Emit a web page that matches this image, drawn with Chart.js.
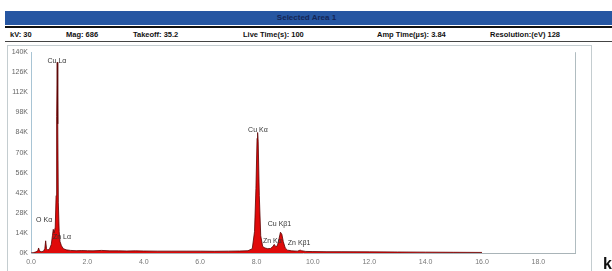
<!DOCTYPE html>
<html><head><meta charset="utf-8">
<script src="https://cdn.jsdelivr.net/npm/chart.js@4.4.1/dist/chart.umd.min.js"></script>
<style>
html,body{margin:0;padding:0;width:612px;height:271px;overflow:hidden;background:#fff;font-family:"Liberation Sans",Arial,sans-serif;}
#bar{position:absolute;left:5px;top:11px;width:607px;height:14px;background:#2656a2;color:#142556;font-weight:bold;font-size:8px;line-height:14px;text-align:center;text-indent:-4px;}
#rule1{position:absolute;left:5px;top:26px;width:607px;height:2px;background:#111;}
#rule2{position:absolute;left:5px;top:41px;width:607px;height:1px;background:#444;}
.info{position:absolute;top:30px;font-size:7.5px;font-weight:bold;color:#111;white-space:nowrap;}
#box{position:absolute;left:7px;top:45px;width:585px;height:240px;border:1px solid #c4cdd0;box-sizing:border-box;}
#wrap{position:absolute;left:0;top:47px;width:612px;height:224px;overflow:hidden;}
#kev{position:absolute;left:603px;top:255px;font-size:16px;font-weight:bold;color:#111;}
</style></head>
<body>
<div id="bar">Selected Area 1</div>
<div id="rule1"></div>
<div class="info" style="left:10px">kV: 30</div>
<div class="info" style="left:66px">Mag: 686</div>
<div class="info" style="left:133px">Takeoff: 35.2</div>
<div class="info" style="left:243px">Live Time(s): 100</div>
<div class="info" style="left:377px">Amp Time(µs): 3.84</div>
<div class="info" style="left:490px">Resolution:(eV) 128</div>
<div id="rule2"></div>
<div id="box"></div>
<div id="wrap"><canvas id="c" width="612" height="224"></canvas></div>
<div id="kev">keV</div>
<script>
// Energy (keV) and counts of the spectrum
const energy = [0.00,0.10,0.18,0.24,0.27,0.30,0.36,0.44,0.49,0.52,0.55,0.60,0.66,0.72,0.76,0.79,0.82,0.86,0.89,0.91,0.93,0.95,0.97,1.00,1.03,1.08,1.15,1.25,1.40,1.60,1.80,2.00,2.20,2.50,2.80,3.10,3.40,3.70,4.00,4.50,5.00,5.50,6.00,6.50,7.00,7.40,7.70,7.85,7.93,7.98,8.02,8.04,8.06,8.10,8.15,8.22,8.30,8.40,8.50,8.58,8.63,8.68,8.74,8.80,8.85,8.90,8.95,9.02,9.10,9.25,9.45,9.55,9.60,9.75,10.0,10.5,11.0,12.0,13.0,14.0,15.0,16.0];
const counts = [0,300,800,1500,3500,1500,900,1200,3000,8500,3000,2000,3000,6000,12000,16500,14000,18000,40000,95000,133000,90000,35000,15000,8000,5000,3000,2200,1800,1600,1700,1600,1500,1800,1500,1500,1400,1500,1400,1300,1300,1300,1300,1200,1300,1400,1600,3000,15000,45000,80000,84000,78000,40000,12000,4500,3500,3000,3200,4500,6000,4500,5000,10000,14500,13000,8000,3500,2000,1500,1300,2000,1600,1100,1000,900,900,800,700,600,500,400];
const yTicks = [0,14000,28000,42000,56000,70000,84000,98000,112000,126000,140000];
const xTicks = [0,2,4,6,8,10,12,14,16,18];
// peak labels: text, energy, counts
const peakText = ["Cu Lα","Cu Kα","O Kα","Zn Lα","Cu Kβ1","Zn Kα","Zn Kβ1"];
const peakE = [0.92,8.05,0.18,0.78,8.40,8.23,9.11];
const peakC = [133800,85800,23300,11000,19900,8200,6900];
const peakAlign = ["center","center","left","left","left","left","left"];

const labelPlugin = {
  id:'peaks',
  afterDatasetsDraw(chart){
    const ctx = chart.ctx, xs = chart.scales.x, ys = chart.scales.y;
    ctx.save();
    ctx.font = '7px "Liberation Sans", Arial, sans-serif';
    ctx.fillStyle = '#333';
    ctx.textBaseline = 'middle';
    peakText.forEach((t,i)=>{
      ctx.textAlign = peakAlign[i];
      ctx.fillText(t, xs.getPixelForValue(peakE[i]), ys.getPixelForValue(peakC[i]));
    });
    ctx.restore();
  }
};

new Chart(document.getElementById('c'), {
  type:'line',
  data:{datasets:[{
    data: energy.map((e,i)=>({x:e,y:counts[i]})),
    borderColor:'#5a0000', borderWidth:0.8, backgroundColor:'#e00a0a',
    fill:'origin', pointRadius:0, tension:0
  }]},
  options:{
    responsive:false, animation:false,
    layout:{padding:{left:0,right:37,top:2,bottom:0}},
    plugins:{legend:{display:false},tooltip:{enabled:false}},
    scales:{
      x:{type:'linear',min:0,max:19.3,
        afterFit(s){s.height=18;},
        afterBuildTicks(s){s.ticks = xTicks.map(v=>({value:v}));},
        grid:{display:false,drawTicks:false},
        border:{display:true,color:'#a9b4b8',width:1},
        ticks:{color:'#777',font:{size:7,family:'"Liberation Sans", Arial'},padding:5,maxRotation:0,
          callback:v=>Number(v).toFixed(1)}},
      y:{min:0,max:140000,
        afterFit(s){s.width=31;},
        afterBuildTicks(s){s.ticks = yTicks.map(v=>({value:v}));},
        grid:{display:false,drawTicks:true,tickLength:2,tickColor:'#999'},
        border:{display:true,color:'#a8c4d4',width:1},
        ticks:{color:'#666',font:{size:7,family:'"Liberation Sans", Arial'},padding:1,
          callback:v=>(v/1000)+'K'}}
    }
  },
  plugins:[labelPlugin,{
    id:'frame',
    afterDraw(chart){
      const {ctx,chartArea:a}=chart;
      ctx.save(); ctx.strokeStyle='#b0bcc0'; ctx.lineWidth=1;
      ctx.beginPath(); ctx.moveTo(a.right+0.5,a.top); ctx.lineTo(a.right+0.5,a.bottom); ctx.stroke();
      ctx.restore();
    }
  }]
});
</script>
</body></html>
